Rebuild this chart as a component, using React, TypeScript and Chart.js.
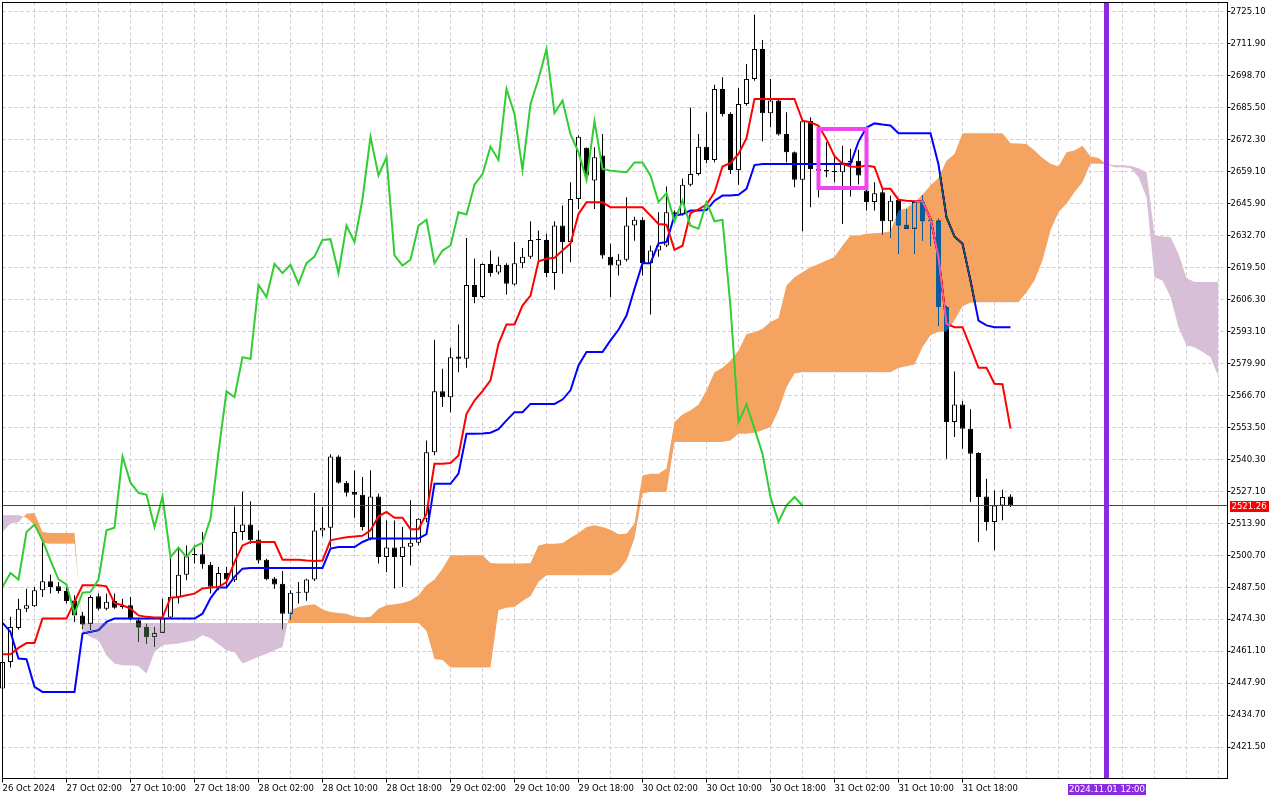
import React, { useEffect, useRef } from "react";
import { Chart, registerables } from "chart.js";

Chart.register(...registerables);

// ---------- data (H1 candles, bar index 0..126) ----------
const opens = [
  2445.7, 2456.7, 2470.7, 2478.7, 2479.7, 2486.3, 2490.0, 2487.9, 2486.0, 2482.1,
  2475.9, 2472.5, 2483.8, 2478.7, 2481.9, 2479.7, 2480.1, 2473.9, 2471.1, 2467.0,
  2468.7, 2475.0, 2483.5, 2492.7, 2500.8, 2501.1, 2496.8, 2487.4, 2493.4, 2490.4,
  2510.3, 2513.4, 2507.2, 2498.9, 2491.1, 2489.0, 2476.6, 2485.3, 2485.3, 2490.7,
  2511.0, 2512.1, 2541.5, 2530.7, 2526.8, 2525.7, 2507.6, 2525.0, 2500.0, 2503.9,
  2500.0, 2504.2, 2505.9, 2515.8, 2543.3, 2568.4, 2566.0, 2582.8, 2581.8, 2612.3,
  2607.3, 2621.0, 2617.4, 2620.6, 2612.5, 2621.3, 2624.0, 2630.9, 2630.9, 2617.2,
  2636.8, 2630.0, 2647.8, 2668.9, 2655.4, 2665.7, 2624.0, 2620.3, 2622.7, 2636.8,
  2639.2, 2621.3, 2626.5, 2628.6, 2642.3, 2641.4, 2653.7, 2658.1, 2669.4, 2663.9,
  2693.2, 2682.9, 2659.8, 2687.0, 2697.3, 2709.7, 2683.2, 2688.4, 2674.6, 2667.1,
  2655.7, 2680.0, 2660.2, 2659.8, 2659.3, 2658.8, 2663.6, 2663.6, 2651.3, 2646.5,
  2650.6, 2638.6, 2647.4, 2637.2, 2635.5, 2646.5, 2638.6, 2638.9, 2603.2, 2555.7,
  2563.0, 2553.0, 2542.9, 2525.0, 2514.5, 2521.3, 2525.0,
];
const highs = [
  2458.0, 2475.3, 2482.8, 2486.9, 2487.6, 2506.2, 2492.7, 2489.7, 2487.6, 2484.2,
  2477.3, 2484.2, 2484.9, 2484.9, 2484.9, 2482.8, 2483.5, 2474.6, 2472.5, 2471.1,
  2482.8, 2500.0, 2503.5, 2504.8, 2504.8, 2510.3, 2497.9, 2495.9, 2495.9, 2520.9,
  2527.1, 2523.0, 2511.0, 2499.3, 2491.8, 2494.2, 2486.3, 2489.7, 2491.0, 2526.4,
  2520.6, 2542.4, 2542.0, 2531.4, 2535.8, 2533.0, 2535.8, 2526.1, 2515.1, 2515.1,
  2512.4, 2523.4, 2516.0, 2548.1, 2589.7, 2577.7, 2586.4, 2596.0, 2631.7, 2623.1,
  2621.3, 2626.5, 2624.0, 2621.3, 2630.0, 2627.6, 2638.6, 2634.8, 2633.4, 2638.6,
  2645.1, 2654.7, 2674.0, 2669.0, 2669.2, 2674.6, 2629.3, 2625.1, 2648.5, 2640.5,
  2640.3, 2628.6, 2642.3, 2652.9, 2643.0, 2656.1, 2685.6, 2674.6, 2683.6, 2695.0,
  2698.0, 2683.6, 2693.6, 2703.5, 2723.9, 2713.4, 2697.3, 2688.7, 2683.6, 2667.4,
  2680.2, 2681.5, 2668.0, 2671.2, 2665.0, 2669.8, 2668.5, 2668.1, 2657.0, 2654.7,
  2652.0, 2649.2, 2647.8, 2643.7, 2646.5, 2649.2, 2639.6, 2639.6, 2603.5, 2576.6,
  2564.4, 2561.0, 2543.3, 2532.3, 2527.5, 2527.8, 2525.9,
];
const lows = [
  2443.0, 2454.4, 2470.0, 2477.3, 2479.4, 2483.5, 2484.9, 2484.9, 2480.8, 2473.2,
  2470.4, 2470.0, 2478.0, 2478.0, 2478.7, 2478.7, 2473.9, 2464.9, 2464.3, 2462.9,
  2468.7, 2474.6, 2480.8, 2490.4, 2497.3, 2495.2, 2484.9, 2486.3, 2487.0, 2489.7,
  2506.9, 2505.5, 2497.3, 2490.4, 2486.9, 2470.2, 2474.0, 2480.8, 2482.0, 2490.1,
  2508.5, 2503.9, 2530.3, 2525.0, 2516.2, 2511.0, 2506.9, 2497.3, 2493.8, 2487.0,
  2487.6, 2496.6, 2504.8, 2514.4, 2542.0, 2561.9, 2559.8, 2576.3, 2578.1, 2604.8,
  2606.9, 2615.8, 2616.6, 2608.4, 2612.1, 2619.2, 2623.1, 2622.4, 2615.5, 2610.3,
  2616.9, 2621.7, 2643.7, 2654.7, 2643.7, 2623.1, 2607.3, 2616.2, 2622.0, 2630.6,
  2616.2, 2600.1, 2624.0, 2628.0, 2640.3, 2641.0, 2653.0, 2657.5, 2662.5, 2663.0,
  2681.8, 2658.1, 2653.7, 2686.3, 2696.6, 2671.6, 2677.4, 2674.0, 2663.0, 2652.6,
  2634.5, 2644.4, 2648.5, 2656.8, 2654.7, 2637.5, 2648.8, 2653.8, 2643.0, 2643.0,
  2633.1, 2631.7, 2625.1, 2635.5, 2625.1, 2630.4, 2628.6, 2595.6, 2540.6, 2549.5,
  2544.7, 2522.7, 2506.2, 2511.0, 2502.8, 2515.2, 2520.6,
];
const closes = [
  2456.7, 2471.1, 2478.7, 2480.1, 2486.3, 2490.0, 2487.6, 2486.0, 2481.9, 2475.9,
  2472.2, 2483.5, 2478.7, 2481.5, 2479.1, 2479.4, 2474.6, 2470.9, 2467.0, 2468.7,
  2474.6, 2483.5, 2492.7, 2500.3, 2501.2, 2497.0, 2487.7, 2493.4, 2490.7, 2510.3,
  2513.4, 2506.9, 2498.6, 2490.8, 2488.7, 2476.6, 2485.3, 2485.6, 2490.7, 2511.0,
  2512.1, 2541.5, 2530.7, 2526.5, 2525.7, 2512.4, 2525.0, 2500.0, 2503.9, 2500.0,
  2504.2, 2505.9, 2515.8, 2543.3, 2568.4, 2566.0, 2582.5, 2581.8, 2612.3, 2607.3,
  2621.0, 2617.2, 2620.6, 2612.8, 2621.3, 2624.0, 2630.9, 2631.2, 2617.2, 2636.8,
  2630.0, 2647.8, 2673.5, 2657.5, 2665.0, 2624.5, 2620.3, 2622.7, 2636.8, 2639.2,
  2621.3, 2626.5, 2628.6, 2642.3, 2641.4, 2653.7, 2658.1, 2669.4, 2663.9, 2693.2,
  2682.9, 2659.8, 2687.0, 2697.3, 2709.7, 2683.2, 2688.4, 2674.4, 2667.1, 2655.7,
  2679.9, 2660.2, 2659.5, 2659.1, 2658.8, 2662.9, 2662.9, 2657.5, 2646.5, 2650.2,
  2638.6, 2647.1, 2636.8, 2635.5, 2646.5, 2638.6, 2639.2, 2603.2, 2555.7, 2563.0,
  2553.0, 2542.6, 2524.8, 2514.5, 2521.3, 2524.8, 2521.26,
];

// Tenkan-sen (red), Kijun-sen (blue), bars 0..126
const tenkan = [
  2459.9, 2459.9, 2462.5, 2464.5, 2464.5, 2474.6, 2474.6, 2474.6, 2474.6, 2481.5,
  2488.3, 2488.3, 2488.3, 2487.9, 2481.0, 2480.1, 2478.7, 2475.9, 2475.3, 2475.0,
  2475.0, 2483.2, 2483.5, 2484.2, 2484.9, 2487.0, 2487.4, 2487.6, 2489.7, 2497.9,
  2504.8, 2506.2, 2506.2, 2506.2, 2506.2, 2498.9, 2498.9, 2498.9, 2498.6, 2498.4,
  2498.6, 2506.9, 2507.6, 2508.2, 2508.5, 2508.8, 2511.0, 2516.8, 2518.6, 2516.2,
  2516.2, 2511.5, 2511.5, 2517.9, 2538.5, 2538.5, 2538.8, 2541.9, 2559.1, 2564.6,
  2568.5, 2572.9, 2588.0, 2596.0, 2596.0, 2603.8, 2607.9, 2622.1, 2623.1, 2623.5,
  2626.5, 2629.4, 2641.6, 2646.4, 2646.4, 2646.4, 2644.4, 2644.4, 2644.4, 2644.4,
  2644.4, 2641.0, 2637.5, 2637.2, 2626.8, 2628.5, 2642.0, 2643.5, 2645.5, 2650.5,
  2661.2, 2662.7, 2666.4, 2672.9, 2689.1, 2689.1, 2689.1, 2689.1, 2689.1, 2689.1,
  2680.1, 2679.5, 2678.0, 2672.5, 2665.5, 2662.3, 2661.2, 2661.0, 2661.6, 2661.0,
  2652.0, 2652.0, 2647.5, 2647.1, 2646.9, 2646.9, 2639.6, 2623.8, 2596.3, 2594.9,
  2594.9, 2586.6, 2578.1, 2578.1, 2571.5, 2571.3, 2553.0,
];
const kijun = [
  2472.8, 2469.1, 2458.1, 2457.8, 2446.4, 2444.3, 2444.3, 2444.3, 2444.3, 2444.3,
  2468.4, 2469.1, 2469.8, 2473.2, 2474.6, 2474.6, 2474.6, 2474.6, 2474.6, 2474.6,
  2474.6, 2474.6, 2474.6, 2474.6, 2474.6, 2476.6, 2483.0, 2487.4, 2487.4, 2491.8,
  2495.2, 2495.5, 2495.5, 2495.5, 2495.5, 2495.5, 2495.5, 2495.5, 2495.5, 2495.5,
  2495.5, 2503.5, 2504.1, 2504.1, 2504.1, 2506.2, 2507.6, 2507.6, 2507.6, 2507.6,
  2507.6, 2507.6, 2507.6, 2509.5, 2530.2, 2530.2, 2530.2, 2534.4, 2550.9, 2550.9,
  2551.0, 2551.3, 2552.8, 2556.4, 2559.8, 2559.8, 2563.2, 2563.2, 2563.2, 2563.2,
  2565.0, 2568.8, 2579.1, 2584.6, 2584.6, 2584.6, 2589.4, 2593.8, 2599.7, 2610.7,
  2621.3, 2621.3, 2629.5, 2630.0, 2641.0, 2641.5, 2643.0, 2643.0, 2643.2, 2647.1,
  2649.2, 2649.2, 2649.5, 2652.0, 2661.8, 2662.2, 2662.2, 2662.2, 2662.2, 2662.2,
  2662.2, 2662.2, 2662.2, 2662.2, 2662.2, 2662.2, 2662.2, 2671.5, 2677.3, 2679.0,
  2678.5, 2678.1, 2674.9, 2674.9, 2674.9, 2674.9, 2674.9, 2662.0, 2640.3, 2632.3,
  2629.3, 2614.1, 2597.6, 2595.6, 2594.9, 2594.9, 2594.9,
];

// Senkou Span A / B, bars 0..152 (cloud projected 26 bars ahead)
const senkouA = [
  2510.3, 2513.8, 2514.5, 2517.9, 2518.2, 2510.3, 2509.9, 2509.9, 2509.9, 2509.9,
  2469.1, 2467.0, 2465.6, 2459.4, 2456.0, 2455.3, 2455.3, 2454.9, 2451.9, 2460.8,
  2463.6, 2464.0, 2464.3, 2465.0, 2465.6, 2467.7, 2466.5, 2464.0, 2461.5, 2460.8,
  2456.0, 2457.4, 2458.8, 2460.1, 2461.5, 2462.9, 2478.0, 2479.4, 2480.1, 2480.5,
  2478.3, 2477.3, 2476.9, 2476.6, 2475.5, 2475.0, 2475.3, 2478.7, 2480.1, 2480.5,
  2481.0, 2482.1, 2484.2, 2488.3, 2490.7, 2495.2, 2500.7, 2500.7, 2500.7, 2500.7,
  2500.7, 2497.5, 2497.3, 2497.3, 2497.3, 2497.3, 2497.5, 2504.8, 2505.5, 2505.5,
  2505.8, 2508.0, 2509.9, 2512.4, 2513.1, 2512.4, 2511.3, 2509.4, 2509.6, 2513.8,
  2533.7, 2534.4, 2534.4, 2536.5, 2555.7, 2558.8, 2560.6, 2562.9, 2568.8, 2576.3,
  2578.1, 2581.1, 2585.3, 2592.1, 2592.8, 2594.2, 2597.0, 2598.7, 2612.1, 2615.5,
  2617.6, 2619.6, 2621.0, 2622.4, 2623.8, 2628.6, 2632.7, 2632.7, 2633.4, 2633.7,
  2633.9, 2634.5, 2643.0, 2644.0, 2646.5, 2649.5, 2653.5, 2656.5, 2663.6, 2666.4,
  2674.9, 2674.9, 2674.9, 2674.9, 2674.9, 2674.9, 2670.8, 2670.7, 2670.5, 2667.8,
  2664.7, 2662.3, 2661.2, 2667.1, 2667.8, 2669.8, 2665.3, 2664.7, 2662.0, 2660.9,
  2660.9, 2660.6, 2656.8, 2648.5, 2615.5, 2614.1, 2607.3, 2594.9, 2587.3, 2586.6,
  2584.6, 2582.5, 2574.3,
];
const senkouB = [
  2517.2, 2517.2, 2517.2, 2516.2, 2513.1, 2505.8, 2505.5, 2505.5, 2505.5, 2505.5,
  2472.8, 2472.8, 2472.8, 2472.8, 2472.8, 2472.8, 2472.8, 2472.8, 2472.8, 2472.8,
  2472.8, 2472.8, 2472.8, 2472.8, 2472.8, 2472.8, 2472.8, 2472.8, 2472.8, 2472.8,
  2472.8, 2472.8, 2472.8, 2472.8, 2472.8, 2472.8, 2472.8, 2472.8, 2472.8, 2472.8,
  2472.8, 2472.8, 2472.8, 2472.8, 2472.8, 2472.8, 2472.8, 2472.8, 2472.8, 2472.8,
  2472.8, 2472.8, 2472.8, 2469.5, 2457.8, 2457.5, 2454.4, 2454.4, 2454.4, 2454.4,
  2454.4, 2454.4, 2478.0, 2479.1, 2479.4, 2481.9, 2483.8, 2489.7, 2492.5, 2492.5,
  2492.5, 2492.5, 2492.5, 2492.5, 2492.5, 2492.5, 2492.5, 2494.3, 2498.6, 2507.6,
  2526.2, 2526.8, 2526.8, 2526.8, 2547.5, 2547.5, 2547.5, 2547.5, 2547.5, 2547.5,
  2547.5, 2548.1, 2550.9, 2550.9, 2551.3, 2552.3, 2553.6, 2560.5, 2570.1, 2575.8,
  2576.3, 2576.3, 2576.3, 2576.3, 2576.3, 2576.3, 2576.3, 2576.3, 2576.3, 2576.3,
  2576.3, 2576.3, 2578.0, 2578.7, 2579.5, 2586.6, 2591.5, 2593.0, 2593.0, 2597.6,
  2603.5, 2605.0, 2605.2, 2605.2, 2605.2, 2605.2, 2605.2, 2605.2, 2609.3, 2614.1,
  2622.4, 2634.8, 2642.3, 2645.8, 2650.6, 2654.7, 2662.3, 2662.3, 2662.2, 2661.7,
  2661.7, 2661.4, 2660.5, 2658.8, 2632.7, 2632.3, 2632.0, 2625.1, 2615.1, 2613.5,
  2613.5, 2613.5, 2613.5,
];

const chikouShift = 26;

const xTickLabels = [
  "26 Oct 2024", "27 Oct 02:00", "27 Oct 10:00", "27 Oct 18:00",
  "28 Oct 02:00", "28 Oct 10:00", "28 Oct 18:00", "29 Oct 02:00",
  "29 Oct 10:00", "29 Oct 18:00", "30 Oct 02:00", "30 Oct 10:00",
  "30 Oct 18:00", "31 Oct 02:00", "31 Oct 10:00", "31 Oct 18:00",
];
const xLabelEvery = 8;
const xGridEvery = 4;
const yTickValues = [
  2421.5, 2434.7, 2447.9, 2461.1, 2474.3, 2487.5, 2500.7, 2513.9,
  2527.1, 2540.3, 2553.5, 2566.7, 2579.9, 2593.1, 2606.3, 2619.5,
  2632.7, 2645.9, 2659.1, 2672.3, 2685.5, 2698.7, 2711.9, 2725.1,
];

const currentPrice = 2521.26;
const markerBar = 138;
const markerLabel = "2024.11.01 12:00";
const boxBars = [102, 108];
const boxPrices = [2676.7, 2652.3];

const X_MIN = 0;
const X_MAX = 153.125;
const Y_MIN = 2408.58;
const Y_MAX = 2728.9;

const GRID = "#cbc6d2";
const FONT = { family: "DejaVu Sans", size: 8.5 };

function xLabelFor(v: number): string {
  const i = v / xLabelEvery;
  if (Number.isInteger(i) && i >= 0 && i < xTickLabels.length) return xTickLabels[i];
  return "";
}

const kumoPlugin = {
  id: "kumoBlend",
  beforeDraw(chart: any) {
    const { ctx, width, height } = chart;
    ctx.save();
    ctx.globalCompositeOperation = "source-over";
    ctx.fillStyle = "#ffffff";
    ctx.fillRect(0, 0, width, height);
    ctx.restore();
  },
  afterDatasetDraw(chart: any, args: any) {
    const role = chart.data.datasets[args.index].role;
    if (role === "kumoB") chart.ctx.globalCompositeOperation = "difference";
    if (role === "kumoA") chart.ctx.globalCompositeOperation = "source-over";
  },
  afterDraw(chart: any) {
    const { ctx, chartArea: a, scales } = chart;
    ctx.save();
    ctx.globalCompositeOperation = "source-over";
    ctx.setLineDash([]);
    ctx.strokeStyle = "#000";
    ctx.lineWidth = 1;
    ctx.strokeRect(a.left, a.top, a.right - a.left, a.bottom - a.top);

    ctx.font = `${FONT.size}px "${FONT.family}"`;
    const py = Math.round(scales.y.getPixelForValue(currentPrice));
    ctx.fillStyle = "#ff0000";
    ctx.fillRect(a.right + 2.5, py - 5, 39, 11);
    ctx.fillStyle = "#ffffff";
    ctx.textAlign = "left";
    ctx.textBaseline = "middle";
    ctx.fillText(currentPrice.toFixed(2), a.right + 4, py + 0.5);

    const mx = Math.round(scales.x.getPixelForValue(markerBar));
    ctx.fillStyle = "#8a2be2";
    ctx.fillRect(mx - 39, 784, 78, 11);
    ctx.fillStyle = "#ffffff";
    ctx.textAlign = "center";
    ctx.fillText(markerLabel, mx, 790);
    ctx.restore();
  },
};

export default function App() {
  const canvasRef = useRef<HTMLCanvasElement | null>(null);

  useEffect(() => {
    document.body.style.margin = "0";
    const canvas = canvasRef.current;
    if (!canvas) return;

    const idx = opens.map((_, i) => i);
    const wickData = idx.map((i) => ({ x: i, y: [lows[i], highs[i]] }));
    const bodyData = idx.map((i) => ({ x: i, y: [opens[i], closes[i]] }));
    const bodyColors = idx.map((i) => (closes[i] >= opens[i] ? "#ffffff" : "#000000"));
    const tenkanData = tenkan.map((v, i) => ({ x: i, y: v }));
    const kijunData = kijun.map((v, i) => ({ x: i, y: v }));
    const chikouData = closes.slice(chikouShift).map((v, i) => ({ x: i, y: v }));
    const spanA = senkouA.map((v, i) => ({ x: i, y: v }));
    const spanB = senkouB.map((v, i) => ({ x: i, y: v }));
    const boxData = [
      { x: boxBars[0], y: boxPrices[0] },
      { x: boxBars[1], y: boxPrices[0] },
      { x: boxBars[1], y: boxPrices[1] },
      { x: boxBars[0], y: boxPrices[1] },
      { x: boxBars[0], y: boxPrices[0] },
    ];
    const priceLine = [
      { x: X_MIN, y: currentPrice },
      { x: X_MAX, y: currentPrice },
    ];
    const markerLine = [
      { x: markerBar, y: Y_MIN },
      { x: markerBar, y: Y_MAX },
    ];
    const gridTicks: number[] = [];
    for (let v = 0; v <= X_MAX; v += xGridEvery) gridTicks.push(v);

    const lineBase = { type: "line", pointRadius: 0, tension: 0, fill: false };

    const chart = new Chart(canvas, {
      type: "line",
      data: {
        datasets: [
          { ...lineBase, label: "maskA", data: spanA, borderWidth: 0, order: 100,
            fill: { target: 1, above: "#ffffff", below: "#ffffff" } },
          { ...lineBase, label: "maskB", data: spanB, borderWidth: 0, order: 99 },
          { type: "bar", label: "wicks", data: wickData, backgroundColor: "#000000",
            borderWidth: 0, barThickness: 1, grouped: false, inflateAmount: 0, clip: 4, order: 50 },
          { type: "bar", label: "bodies", data: bodyData, backgroundColor: bodyColors,
            borderColor: "#000000", borderWidth: 1, borderSkipped: false, minBarLength: 1,
            barThickness: 5, grouped: false, inflateAmount: 0, clip: 4, order: 49 },
          { ...lineBase, label: "Kijun-sen", data: kijunData, borderColor: "#0000ff",
            borderWidth: 2, order: 40 },
          { ...lineBase, label: "Tenkan-sen", data: tenkanData, borderColor: "#ff0000",
            borderWidth: 2, order: 39 },
          { ...lineBase, label: "Senkou Span B", role: "kumoB", data: spanB, borderWidth: 0, order: 2 },
          { ...lineBase, label: "Senkou Span A", role: "kumoA", data: spanA, borderWidth: 0, order: 1,
            fill: { target: 6, above: "rgb(11,91,159)", below: "rgb(39,64,39)" } },
          { ...lineBase, label: "Chikou Span", data: chikouData, borderColor: "#32cd32",
            borderWidth: 2, order: 0 },
          { ...lineBase, label: "box", data: boxData, borderColor: "#f044f0", borderWidth: 4,
            borderJoinStyle: "miter", borderCapStyle: "square", order: -1 },
          { ...lineBase, label: "price", data: priceLine, borderColor: "#e00000", borderWidth: 1, order: -2 },
          { ...lineBase, label: "marker", data: markerLine, borderColor: "#8a2be2", borderWidth: 5, order: -3 },
        ] as any,
      },
      options: {
        responsive: false,
        animation: false,
        events: [],
        layout: { padding: { left: 2.5, top: 2.5, right: 0, bottom: 0 } },
        plugins: { legend: { display: false }, tooltip: { enabled: false } },
        scales: {
          x: {
            type: "linear",
            position: "bottom",
            min: X_MIN,
            max: X_MAX,
            offset: false,
            bounds: "data",
            afterBuildTicks: (scale: any) => {
              scale.ticks = gridTicks.map((v) => ({ value: v }));
            },
            afterFit: (scale: any) => {
              scale.height = 21.5;
              scale.paddingLeft = 0;
              scale.paddingRight = 0;
            },
            grid: {
              color: GRID,
              lineWidth: 1,
              offset: false,
              drawTicks: true,
              tickLength: 4,
              tickWidth: 1,
              tickColor: (c: any) => (c.tick && xLabelFor(c.tick.value) ? "#000" : "rgba(0,0,0,0)"),
            },
            border: { display: true, color: "#000", width: 1, dash: [3, 3] },
            ticks: {
              autoSkip: false,
              maxRotation: 0,
              minRotation: 0,
              align: "start",
              padding: 1,
              color: "#000",
              font: FONT,
              callback: (v: any) => xLabelFor(Number(v)),
            },
          },
          y: {
            type: "linear",
            position: "right",
            min: Y_MIN,
            max: Y_MAX,
            beginAtZero: false,
            bounds: "data",
            afterBuildTicks: (scale: any) => {
              scale.ticks = yTickValues.map((v) => ({ value: v }));
            },
            afterFit: (scale: any) => {
              scale.width = 52.5;
              scale.paddingTop = 0;
              scale.paddingBottom = 0;
            },
            grid: { color: GRID, lineWidth: 1, tickLength: 3, tickWidth: 1, tickColor: "#000" },
            border: { display: true, color: "#000", width: 1, dash: [3, 3] },
            ticks: {
              padding: 0,
              color: "#000",
              font: FONT,
              callback: (v: any) => Number(v).toFixed(2),
            },
          },
        },
      } as any,
      plugins: [kumoPlugin as any],
    });

    return () => chart.destroy();
  }, []);

  return (
    <div style={{ position: "fixed", left: 0, top: 0, width: 1280, height: 800, background: "#fff" }}>
      <canvas ref={canvasRef} width={1280} height={800} style={{ width: 1280, height: 800, display: "block" }} />
    </div>
  );
}
